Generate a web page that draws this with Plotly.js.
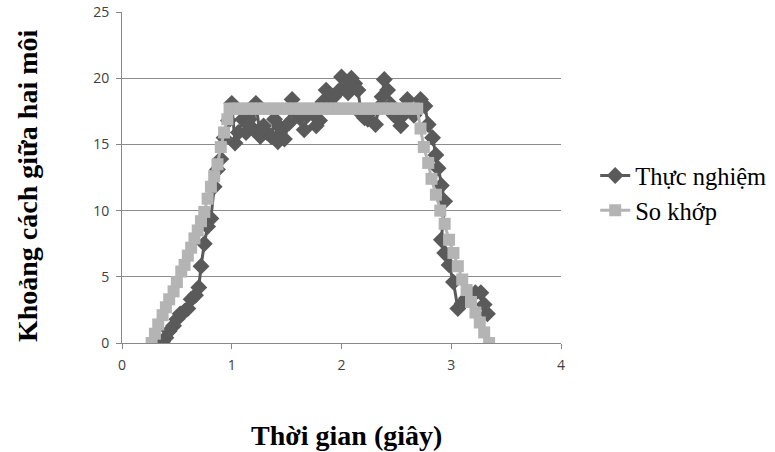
<!DOCTYPE html>
<html>
<head>
<meta charset="utf-8">
<script src="https://cdn.plot.ly/plotly-3.0.1.min.js"></script>
<style>html,body{margin:0;padding:0;background:#fff;}#chart{width:775px;height:452px;}</style>
</head>
<body>
<div id="chart"></div>
<script>
// Thực nghiệm (experimental)
var tExp = [0.37,0.40,0.43,0.47,0.50,0.53,0.57,0.60,0.63,0.67,0.70,0.72,0.75,0.78,0.81,0.84,0.87,0.90,0.93,0.97,
  1.00,1.03,1.06,1.10,1.13,1.16,1.19,1.22,1.26,1.29,1.32,1.36,1.39,1.42,1.45,1.48,1.52,1.55,1.59,1.62,1.66,1.69,1.73,1.77,1.80,
  1.83,1.86,1.89,1.93,1.97,2.00,2.03,2.06,2.09,2.12,2.15,2.18,2.21,2.24,2.27,2.31,2.34,2.37,2.39,2.42,2.45,2.48,2.51,2.54,2.57,
  2.60,2.63,2.66,2.69,2.72,2.76,2.79,2.83,2.86,2.88,2.91,2.94,2.91,2.94,2.98,3.02,3.06,3.10,3.14,3.18,3.22,3.27,3.30,3.33];
var vExp = [0.1,0.4,0.9,1.3,1.8,2.2,2.4,2.6,3.3,3.6,4.2,5.8,7.5,8.8,9.4,11.8,13.1,13.9,15.5,16.8,
  18.1,15.1,15.9,16.9,15.9,16.9,16.2,18.1,15.6,16.4,15.9,15.6,16.9,15.2,16.2,15.4,16.6,18.4,17.3,17.0,16.1,17.2,17.4,16.4,16.8,
  18.2,19.1,18.1,18.6,19.0,20.1,19.4,18.9,20.0,19.6,19.1,17.3,17.0,16.9,17.5,16.5,17.8,18.6,19.9,19.1,18.0,17.2,17.0,16.4,17.3,
  18.4,17.6,17.2,17.8,18.4,17.9,16.5,15.5,14.2,13.2,11.9,10.7,7.8,6.8,5.9,4.6,2.6,3.0,3.4,3.6,3.8,3.8,2.9,2.2];

// So khớp (fit)
var tFit = [0.27,0.30,0.33,0.37,0.40,0.43,0.47,0.50,0.54,0.57,0.60,0.63,0.66,0.69,0.72,0.75,0.78,0.81,0.84,0.87,0.90,0.93,0.96,0.98,
  1.02,1.06,1.10,1.14,1.18,1.22,1.26,1.30,1.34,1.38,1.42,1.46,1.50,1.54,1.58,1.62,1.66,1.70,1.74,1.78,1.82,1.86,1.90,1.94,1.98,
  2.02,2.06,2.10,2.14,2.18,2.22,2.26,2.30,2.34,2.38,2.42,2.46,2.50,2.54,2.58,2.62,2.66,2.69,
  2.72,2.75,2.79,2.82,2.86,2.90,2.94,2.98,3.02,3.06,3.10,3.14,3.18,3.22,3.26,3.30,3.345];
var vFit = [0.0,0.7,1.4,2.1,2.7,3.3,3.9,4.6,5.4,5.9,6.6,7.2,7.9,8.5,9.2,9.9,10.9,11.8,12.6,13.5,14.8,15.9,16.9,17.7,
  17.7,17.7,17.7,17.7,17.7,17.7,17.7,17.7,17.7,17.7,17.7,17.7,17.7,17.7,17.7,17.7,17.7,17.7,17.7,17.7,17.7,17.7,17.7,17.7,17.7,
  17.7,17.7,17.7,17.7,17.7,17.7,17.7,17.7,17.7,17.7,17.7,17.7,17.7,17.7,17.7,17.7,17.7,17.7,
  16.2,14.8,13.6,12.4,11.2,10.0,9.0,7.8,6.8,5.8,4.8,4.0,3.1,2.3,1.55,0.8,0.0];

var xTicks = [0,1,2,3,4];
var yTicks = [0,5,10,15,20,25];
var xTitle = 'Thời gian (giây)';
var yTitle = 'Khoảng cách giữa hai môi';

var traces = [
  {x: tExp, y: vExp, name: 'Thực nghiệm', type: 'scatter', mode: 'lines+markers',
   line: {color: '#5a5a5a', width: 3}, marker: {symbol: 'diamond', size: 13, color: '#5a5a5a'}},
  {x: tFit, y: vFit, name: 'So khớp', type: 'scatter', mode: 'lines+markers',
   line: {color: '#b4b4b4', width: 3}, marker: {symbol: 'square', size: 12, color: '#b4b4b4'}}
];

var titleFont = {family: 'Liberation Serif, serif', size: 28, color: '#000', weight: 'bold'};

var layout = {
  width: 775, height: 452,
  margin: {l: 122, r: 214, t: 12, b: 109, pad: 0, autoexpand: false},
  paper_bgcolor: '#fff', plot_bgcolor: '#fff',
  showlegend: true,
  legend: {xref: 'container', yref: 'container', x: 0.768, xanchor: 'left', y: 0.573, yanchor: 'middle',
    font: {family: 'Liberation Serif, serif', size: 24.5, color: '#000'}, bgcolor: 'rgba(0,0,0,0)', tracegroupgap: 0},
  xaxis: {range: [0, 4], tickvals: xTicks, ticktext: xTicks.map(String), showgrid: false, zeroline: false,
    showline: true, linecolor: '#888', linewidth: 1, ticks: 'outside', ticklen: 5, tickcolor: '#888',
    ticklabelstandoff: 4,
    tickfont: {family: 'Open Sans, sans-serif', size: 14, color: '#404040'}},
  yaxis: {range: [0, 25], tickvals: yTicks, ticktext: yTicks.map(String), showgrid: true, gridcolor: '#8c8c8c', gridwidth: 1,
    zeroline: false, showline: true, linecolor: '#888', linewidth: 1, ticks: 'outside', ticklen: 5, tickcolor: '#888',
    ticklabelstandoff: 4,
    tickfont: {family: 'Open Sans, sans-serif', size: 14, color: '#404040'}},
  annotations: [
    {text: yTitle, xref: 'paper', yref: 'paper', x: -0.2164, y: 0.474, xanchor: 'center', yanchor: 'middle',
     textangle: -90, showarrow: false, font: titleFont},
    {text: xTitle, xref: 'paper', yref: 'paper', x: 0.5125, y: -0.2796, xanchor: 'center', yanchor: 'middle',
     showarrow: false, font: titleFont}
  ]
};

Plotly.newPlot('chart', traces, layout, {displayModeBar: false, staticPlot: true});
</script>
</body>
</html>
